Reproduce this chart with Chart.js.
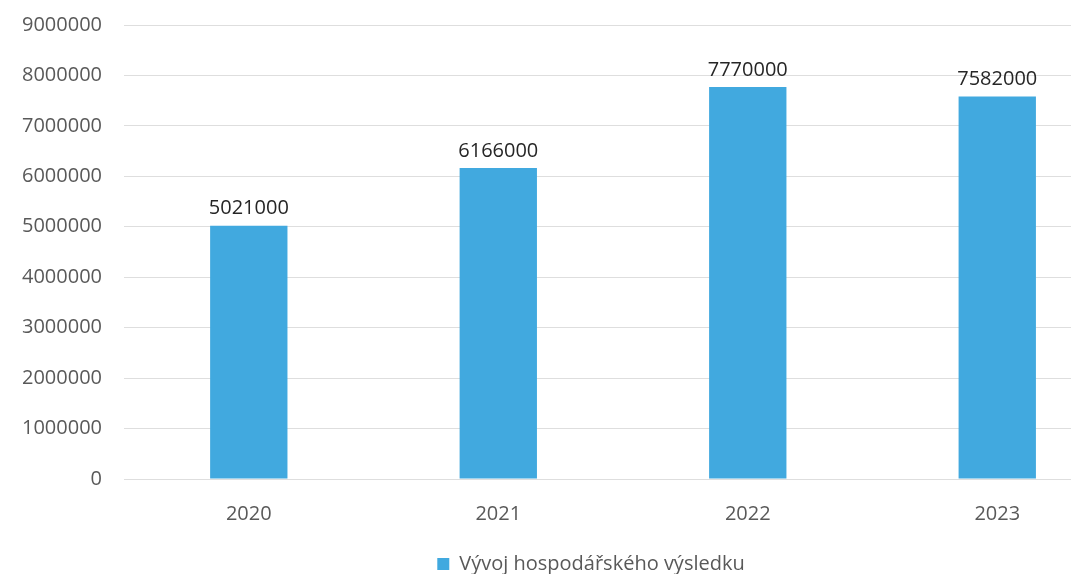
<!DOCTYPE html>
<html>
<head>
<meta charset="utf-8">
<script src="https://cdn.jsdelivr.net/npm/chart.js@4.4.1/dist/chart.umd.min.js"></script>
<style>
  html, body { margin: 0; padding: 0; background: #fff; overflow: hidden; }
  #wrap { width: 1182px; height: 574px; }
</style>
</head>
<body>
<div id="wrap"><canvas id="chart" width="1182" height="574"></canvas></div>
<script>
const years = ['2020', '2021', '2022', '2023'];
const results = [5021000, 6166000, 7770000, 7582000];
const seriesName = 'Vývoj hospodářského výsledku';

const FONT = '"Open Sans", "Noto Sans", sans-serif';

// draws the value above each bar
const valueLabels = {
  id: 'valueLabels',
  afterDatasetsDraw(chart) {
    const ctx = chart.ctx;
    const meta = chart.getDatasetMeta(0);
    ctx.save();
    ctx.font = '20px ' + FONT;
    ctx.fillStyle = '#262626';
    ctx.textAlign = 'center';
    ctx.textBaseline = 'bottom';
    meta.data.forEach((bar, i) => {
      ctx.fillText(String(chart.data.datasets[0].data[i]), bar.x, bar.y - 7);
    });
    ctx.restore();
  },
};

new Chart(document.getElementById('chart'), {
  type: 'bar',
  data: {
    labels: years,
    datasets: [
      {
        label: seriesName,
        data: results,
        backgroundColor: '#41a9df',
        categoryPercentage: 1,
        barPercentage: 0.31,
      },
    ],
  },
  options: {
    responsive: false,
    animation: false,
    layout: { padding: { top: 25, right: 0, left: 0, bottom: -10 } },
    scales: {
      y: {
        min: 0,
        max: 9000000,
        ticks: {
          stepSize: 1000000,
          color: '#595959',
          font: { family: FONT, size: 20 },
          padding: 22,
          callback: (v) => String(v),
        },
        grid: { color: '#dedede', drawTicks: false },
        border: { display: false },
        afterFit: (s) => { s.paddingTop = 0; },
      },
      // empty right margin (the original chart is cut off on the right)
      yPad: {
        position: 'right',
        display: true,
        ticks: { display: false },
        grid: { display: false, drawTicks: false },
        border: { display: false },
        afterFit: (s) => { s.width = 60; },
      },
      x: {
        ticks: {
          color: '#595959',
          font: { family: FONT, size: 20 },
          padding: 23,
        },
        grid: { display: false, drawTicks: false },
        border: { display: false },
        afterFit: (s) => { s.height += 4; },
      },
    },
    plugins: {
      legend: {
        display: true,
        position: 'bottom',
        labels: {
          color: '#595959',
          font: { family: FONT, size: 20 },
          boxWidth: 12,
          boxHeight: 12,
          padding: 1,
        },
      },
      tooltip: { enabled: false },
    },
  },
  plugins: [valueLabels],
});
</script>
</body>
</html>
